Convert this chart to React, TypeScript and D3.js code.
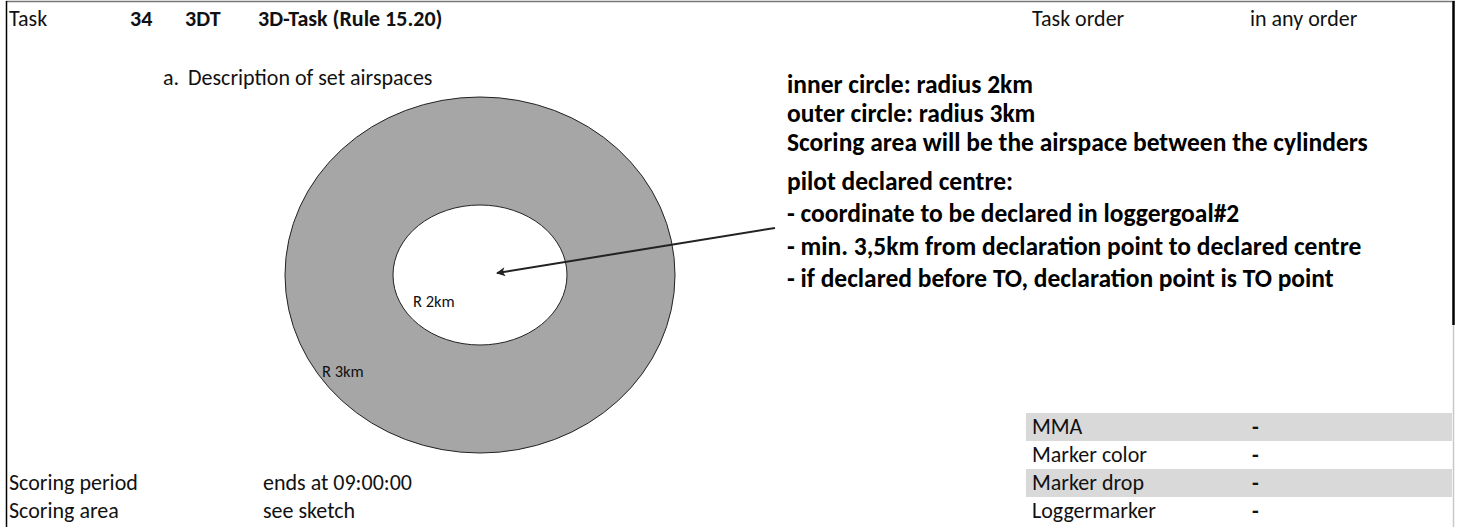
import React from 'react';
import * as d3 from 'd3';

// header row
const taskLabels = ['Task', '34', '3DT', '3D-Task (Rule 15.20)'];
const orderLabels = ['Task order', 'in any order'];

// sketch
const sketchTitle = ['a.', 'Description of set airspaces'];
const radiiKm = [3, 2];
const radiusLabels = ['R 3km', 'R 2km'];

// notes on the right, two paragraphs
const circleNotes = [
  'inner circle: radius 2km',
  'outer circle: radius 3km',
  'Scoring area will be the airspace between the cylinders',
];
const centreNotes = [
  'pilot declared centre:',
  '- coordinate to be declared in loggergoal#2',
  '- min. 3,5km from declaration point to declared centre',
  '- if declared before TO, declaration point is TO point',
];

// bottom rows
const scoringLabels = ['Scoring period', 'Scoring area'];
const scoringValues = ['ends at 09:00:00', 'see sketch'];
const markerLabels = ['MMA', 'Marker color', 'Marker drop', 'Loggermarker'];
const markerValues = ['-', '-', '-', '-'];

const W = 1458;
const H = 527;
const FONT = 'Carlito, Calibri, Lato, sans-serif';
const FS = 22;

const App = () => {
  // header columns
  const taskX = d3.scaleOrdinal<string, number>().domain(taskLabels).range([9, 130, 185, 258]);
  const orderX = d3.scaleOrdinal<string, number>().domain(orderLabels).range([1032, 1250]);

  // sketch geometry (not drawn to scale in the original)
  const cx = 480;
  const cy = 275;
  const rx = d3.scaleLinear().domain([2, 3]).range([87, 195]);
  const ry = d3.scaleLinear().domain([2, 3]).range([70, 178]);

  const circleNoteY = d3.scaleLinear().domain([0, circleNotes.length - 1]).range([93, 151]);
  const centreNoteY = d3.scaleLinear().domain([0, centreNotes.length - 1]).range([190, 287]);

  const markerBand = d3.scaleBand<number>()
    .domain(d3.range(markerLabels.length))
    .range([413, 525])
    .padding(0);
  // scoring rows share the last two sheet rows with the marker table
  const scoringY = (i: number) => (markerBand(i + 2) ?? 0) + markerBand.bandwidth() - 7;

  // arrow from the notes into the centre
  const arrowFrom: [number, number] = [775, 228];
  const arrowTo: [number, number] = [cx + 17, cy - 2];

  return (
    <svg width={W} height={H} style={{ position: 'absolute', left: 0, top: 0, display: 'block', background: '#fff' }}
      fontFamily={FONT} fontSize={FS} fill="#111">
      <defs>
        <marker id="head" viewBox="0 0 10 10" refX="9" refY="5" markerWidth="5.5" markerHeight="4.5" orient="auto">
          <path d="M0,0 L10,5 L0,10 L2.5,5 z" fill="#222" />
        </marker>
      </defs>

      {/* frame */}
      <line x1={6} y1={1.5} x2={1455} y2={1.5} stroke="#777" strokeWidth={1.5} />
      <line x1={6.5} y1={1} x2={6.5} y2={H} stroke="#000" strokeWidth={1.5} />
      <line x1={1453.5} y1={1} x2={1453.5} y2={325} stroke="#000" strokeWidth={2.5} />
      <line x1={1453.5} y1={325} x2={1453.5} y2={H} stroke="#c8c8c8" strokeWidth={1.5} />

      {/* header */}
      {taskLabels.map((t, i) => (
        <text key={t} x={taskX(t)} y={26} fontWeight={i === 0 ? 400 : 700}>{t}</text>
      ))}
      {orderLabels.map(t => (
        <text key={t} x={orderX(t)} y={26}>{t}</text>
      ))}

      {/* sketch title */}
      <text x={163} y={85}>{sketchTitle[0]}</text>
      <text x={188} y={85}>{sketchTitle[1]}</text>

      {/* airspaces */}
      {radiiKm.map((r, i) => (
        <ellipse key={r} cx={cx} cy={cy} rx={rx(r)} ry={ry(r)}
          fill={i === 0 ? '#a6a6a6' : '#fff'} stroke="#222" strokeWidth={1} />
      ))}
      <text x={322} y={377} fontSize={16.5}>{radiusLabels[0]}</text>
      <text x={413} y={307} fontSize={16.5}>{radiusLabels[1]}</text>

      <line x1={arrowFrom[0]} y1={arrowFrom[1]} x2={arrowTo[0]} y2={arrowTo[1]}
        stroke="#222" strokeWidth={2} markerEnd="url(#head)" />

      {/* notes */}
      <g fontWeight={700} fontSize={25.5} fill="#000">
        {circleNotes.map((n, i) => (
          <text key={n} x={787} y={circleNoteY(i)}>{n}</text>
        ))}
        {centreNotes.map((n, i) => (
          <text key={n} x={787} y={centreNoteY(i)}>{n}</text>
        ))}
      </g>

      {/* scoring rows */}
      {scoringLabels.map((s, i) => (
        <g key={s}>
          <text x={9} y={scoringY(i)}>{s}</text>
          <text x={263} y={scoringY(i)}>{scoringValues[i]}</text>
        </g>
      ))}

      {/* marker table */}
      {markerLabels.map((m, i) => (
        <g key={m}>
          {i % 2 === 0 && (
            <rect x={1026} y={markerBand(i)} width={1452 - 1026} height={markerBand.bandwidth()} fill="#d9d9d9" />
          )}
          <text x={1032} y={(markerBand(i) ?? 0) + markerBand.bandwidth() - 7}>{m}</text>
          <text x={1252} y={(markerBand(i) ?? 0) + markerBand.bandwidth() - 7} fontWeight={700}>{markerValues[i]}</text>
        </g>
      ))}
    </svg>
  );
};

export default App;
